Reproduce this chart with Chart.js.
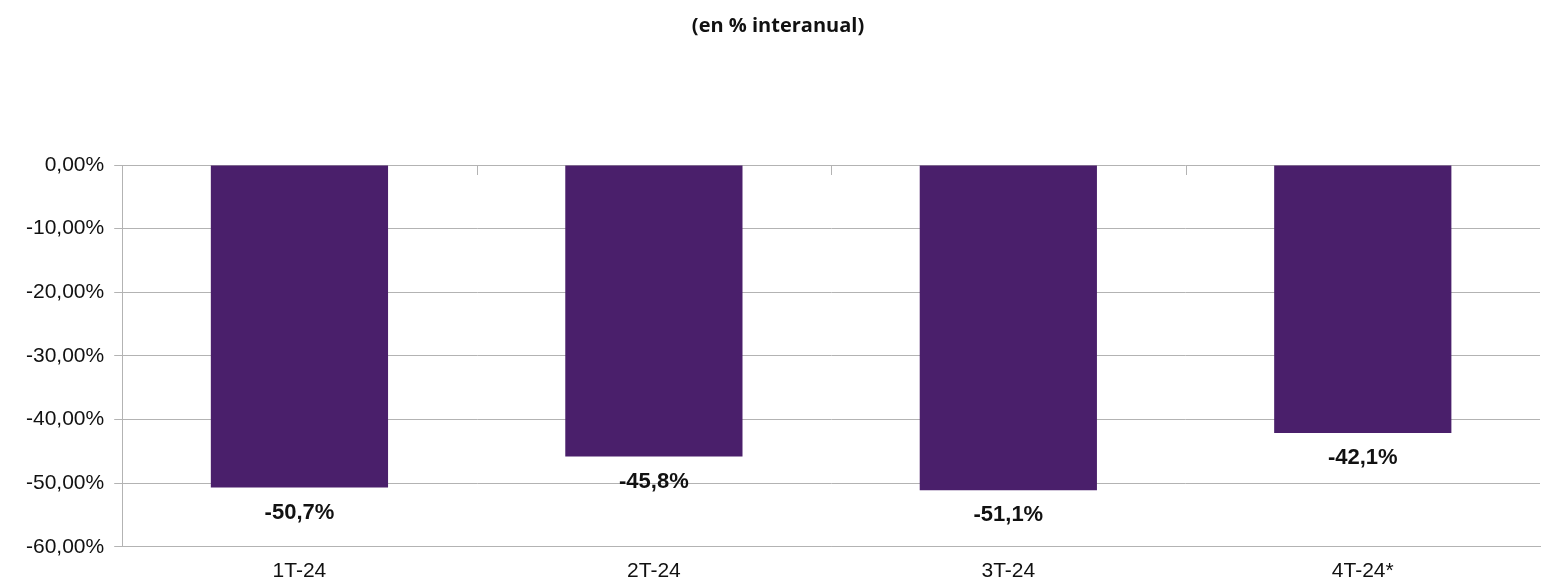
<!DOCTYPE html>
<html><head><meta charset="utf-8">
<script src="https://cdn.jsdelivr.net/npm/chart.js@4"></script>
<style>html,body{margin:0;background:#fff}#wrap{width:1541px;height:588px}</style>
</head><body><div id="wrap"><canvas id="c"></canvas></div>
<script>
const categories = ['1T-24', '2T-24', '3T-24', '4T-24*'];
const values = [-50.7, -45.8, -51.1, -42.1];
const valueLabels = ['-50,7%', '-45,8%', '-51,1%', '-42,1%'];

const barLabels = {
  id: 'barLabels',
  afterDatasetsDraw(chart) {
    const ctx = chart.ctx;
    ctx.save();
    ctx.font = 'bold 22px "Liberation Sans", Arial';
    ctx.fillStyle = '#111';
    ctx.textAlign = 'center';
    ctx.textBaseline = 'middle';
    chart.getDatasetMeta(0).data.forEach((bar, i) => {
      ctx.fillText(valueLabels[i], bar.x, bar.y + 25);
    });
    // small category separator ticks at the top
    const xs = chart.scales.x, top = chart.chartArea.top;
    ctx.strokeStyle = '#b3b3b3';
    ctx.lineWidth = 1;
    for (let i = 1; i < categories.length; i++) {
      const x = Math.round((xs.getPixelForValue(i - 1) + xs.getPixelForValue(i)) / 2) + 0.5;
      ctx.beginPath(); ctx.moveTo(x, top); ctx.lineTo(x, top + 10); ctx.stroke();
    }
    ctx.restore();
  }
};

new Chart(document.getElementById('c'), {
  type: 'bar',
  data: {
    labels: categories,
    datasets: [{ data: values, backgroundColor: '#4a1f6b', categoryPercentage: 1, barPercentage: 0.5 }]
  },
  options: {
    responsive: true,
    maintainAspectRatio: false,
    animation: false,
    layout: { padding: { top: 2, right: 1, left: 16, bottom: 0 } },
    plugins: {
      legend: { display: false },
      tooltip: { enabled: false },
      title: {
        display: true,
        text: '(en % interanual)',
        color: '#111',
        font: { family: '"Open Sans", sans-serif', size: 20, weight: 'bold' },
        padding: { top: 12, bottom: 127 }
      }
    },
    scales: {
      x: {
        grid: { display: false },
        border: { color: '#b3b3b3' },
        ticks: { color: '#111', font: { family: '"Liberation Sans", Arial', size: 21 }, padding: 4 }
      },
      y: {
        min: -60, max: 0,
        ticks: {
          stepSize: 10, color: '#111', padding: 10,
          font: { family: '"Liberation Sans", Arial', size: 21 },
          callback: v => v.toFixed(2).replace('.', ',') + '%'
        },
        grid: { color: '#b3b3b3', drawTicks: true, tickLength: 8 },
        border: { color: '#b3b3b3' }
      }
    }
  },
  plugins: [barLabels]
});
</script></body></html>
